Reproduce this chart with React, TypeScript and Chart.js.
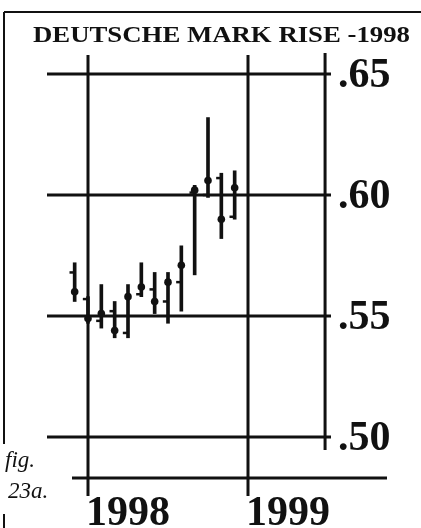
import React, { useEffect, useRef } from "react";
import { Chart, registerables } from "chart.js";

Chart.register(...registerables);

// Monthly bars, Dec 1997 .. Dec 1998 (index 0 = Dec 1997, index 1 = Jan 1998)
const months = ["Dec 97", "Jan 98", "Feb 98", "Mar 98", "Apr 98", "May 98", "Jun 98", "Jul 98", "Aug 98", "Sep 98", "Oct 98", "Nov 98", "Dec 98"];
const highs = [0.572, 0.558, 0.563, 0.556, 0.563, 0.572, 0.568, 0.568, 0.579, 0.604, 0.632, 0.609, 0.610];
const lows = [0.556, 0.547, 0.545, 0.541, 0.541, 0.558, 0.551, 0.547, 0.552, 0.567, 0.599, 0.582, 0.590];
const opens = [0.568, 0.557, 0.548, 0.552, 0.543, 0.559, 0.561, 0.556, 0.564, 0.601, 0.600, 0.607, 0.591];
const closes = [0.560, 0.549, 0.551, 0.544, 0.558, 0.562, 0.556, 0.564, 0.571, 0.602, 0.606, 0.590, 0.603];

const yTickValues = [0.65, 0.6, 0.55, 0.5];
const yTickLabels = [".65", ".60", ".55", ".50"];
const yearPositions = [1, 13]; // Jan 1998, Jan 1999
const yearLabels = ["1998", "1999"];
const title = "DEUTSCHE MARK RISE -1998";

const INK = "#111";
const SERIF = '"Liberation Serif", "Times New Roman", serif';

function fitText(ctx: CanvasRenderingContext2D, text: string, x: number, baseline: number, font: string, targetW?: number) {
  ctx.save();
  ctx.font = font;
  ctx.textBaseline = "alphabetic";
  ctx.textAlign = "left";
  const w = ctx.measureText(text).width;
  const sx = targetW ? targetW / w : 1;
  ctx.translate(x, baseline);
  ctx.scale(sx, 1);
  ctx.fillText(text, 0, 0);
  ctx.restore();
}

const decor = {
  id: "decor",
  beforeDatasetsDraw(chart: any) {
    const { ctx, scales } = chart;
    const xs = scales.x;
    const ys = scales.y;
    const seg = (x1: number, y1: number, x2: number, y2: number, w: number) => {
      ctx.beginPath();
      ctx.lineWidth = w;
      ctx.moveTo(x1, y1);
      ctx.lineTo(x2, y2);
      ctx.stroke();
    };
    ctx.save();
    ctx.strokeStyle = INK;
    // page frame
    seg(4, 12, 421, 12, 2);
    seg(4, 12, 4, 444, 2);
    seg(4, 514, 4, 528, 2);
    // horizontal grid lines
    yTickValues.forEach((v) => {
      const py = ys.getPixelForValue(v);
      seg(47, py, 331, py, 3);
    });
    // year lines
    yearPositions.forEach((p) => {
      const px = xs.getPixelForValue(p);
      seg(px, 55, px, 496, 3);
    });
    // right axis line
    const rx = xs.getPixelForValue(18.78);
    seg(rx, 53, rx, 450, 3);
    // bottom line
    seg(72, 478, 387, 478, 3);
    ctx.restore();
  },
  afterDraw(chart: any) {
    const { ctx, scales } = chart;
    const xs = scales.x;
    const ys = scales.y;
    ctx.save();
    ctx.fillStyle = INK;
    fitText(ctx, title, 33, 42, `bold 23px ${SERIF}`, 377);
    yTickValues.forEach((v, i) => {
      const py = ys.getPixelForValue(v);
      fitText(ctx, yTickLabels[i], 338, py + 13, `bold 42px ${SERIF}`);
    });
    yearPositions.forEach((p, i) => {
      const px = xs.getPixelForValue(p);
      fitText(ctx, yearLabels[i], px - 2, 525, `bold 42px ${SERIF}`);
    });
    fitText(ctx, "fig.", 5, 467, `italic 23px ${SERIF}`);
    fitText(ctx, "23a.", 8, 498, `italic 23px ${SERIF}`);
    ctx.restore();
  },
};

export default function App() {
  const ref = useRef<HTMLCanvasElement | null>(null);
  useEffect(() => {
    if (!ref.current) return;
    const chart = new Chart(ref.current, {
      type: "bar",
      data: {
        datasets: [
          {
            type: "bar",
            label: "range",
            data: months.map((_, i) => ({ x: i, y: [lows[i], highs[i]] })) as any,
            backgroundColor: INK,
            barThickness: 3,
            borderWidth: 0,
            order: 3,
          },
          {
            type: "scatter",
            label: "open",
            data: months.map((_, i) => ({ x: i - 0.2, y: opens[i] })),
            pointStyle: "line",
            pointRadius: 2.5,
            pointBorderWidth: 2.5,
            borderColor: INK,
            pointBorderColor: INK,
            order: 2,
          } as any,
          {
            type: "scatter",
            label: "close",
            data: months.map((_, i) => ({ x: i, y: closes[i] })),
            pointStyle: "circle",
            pointRadius: 3.8,
            pointBackgroundColor: INK,
            pointBorderColor: INK,
            pointBorderWidth: 0,
            order: 1,
          } as any,
        ],
      },
      options: {
        responsive: false,
        animation: false,
        layout: { padding: 0, autoPadding: false },
        plugins: { legend: { display: false }, tooltip: { enabled: false }, title: { display: false } },
        scales: {
          x: { type: "linear", min: -5.6, max: 25.975, offset: false, display: false, grid: { display: false } },
          y: { type: "linear", min: 0.4624, max: 0.68058, display: false, grid: { display: false } },
        },
      },
      plugins: [decor],
    });
    return () => chart.destroy();
  }, []);
  return (
    <div style={{ position: "fixed", left: 0, top: 0, width: 421, height: 528, background: "#fff" }}>
      <canvas ref={ref} width={421} height={528} />
    </div>
  );
}
